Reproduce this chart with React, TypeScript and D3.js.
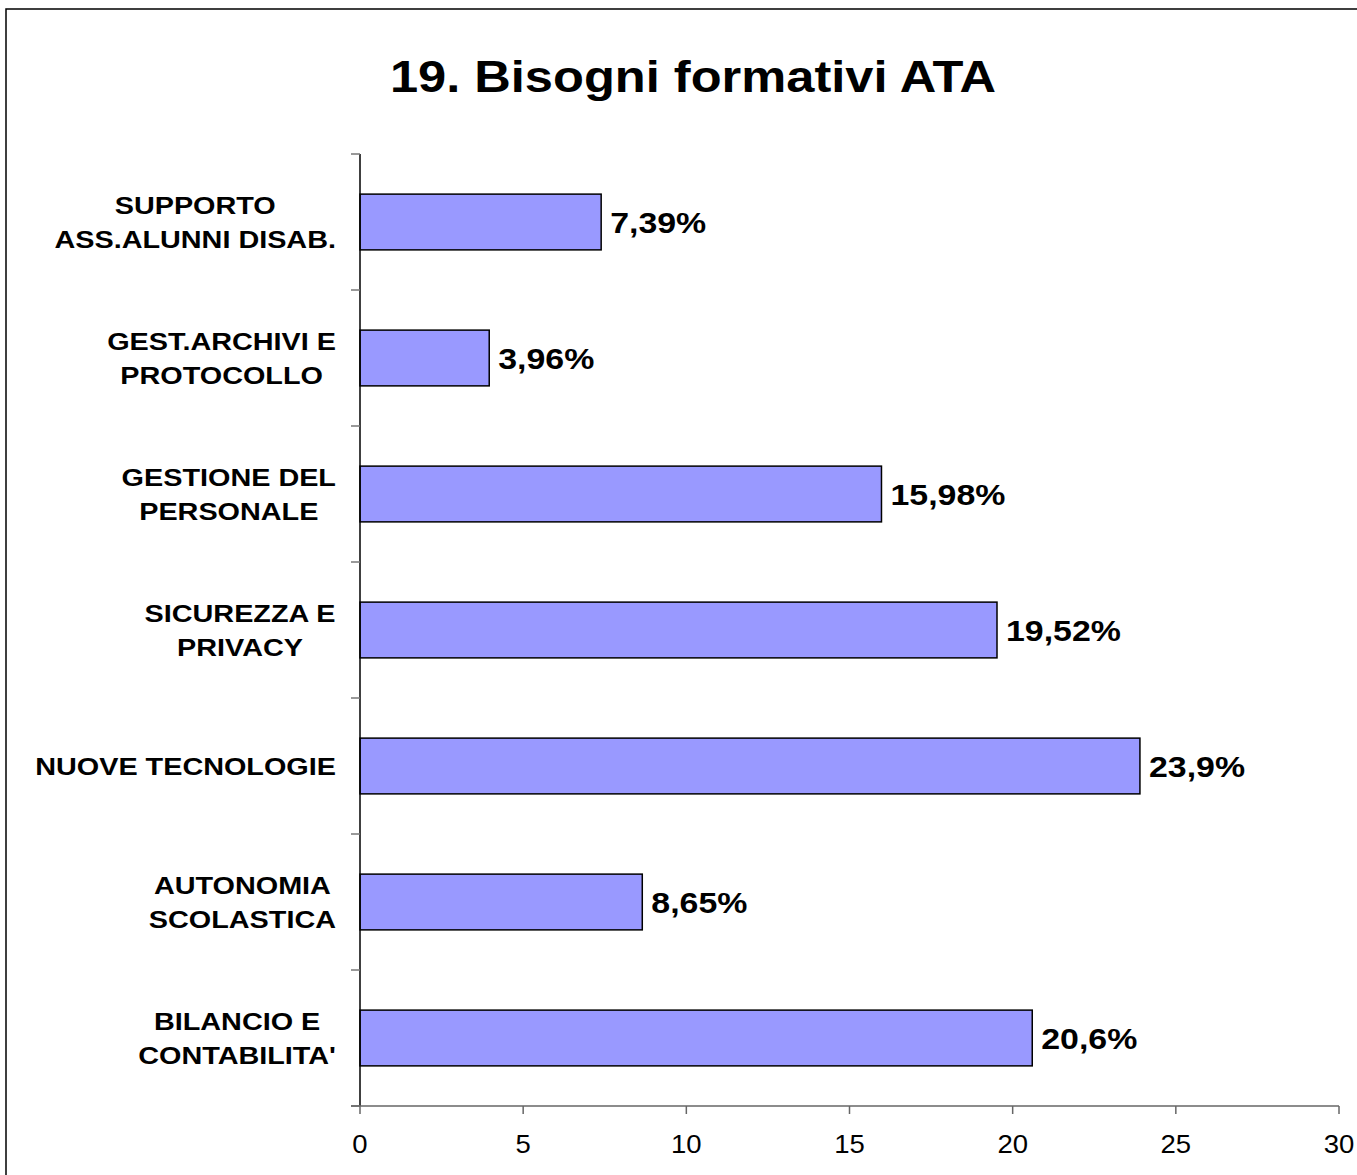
import React from "react";
import * as d3 from "d3";

const TITLE = "19. Bisogni formativi ATA";
const categories: string[][] = [
  ["SUPPORTO", "ASS.ALUNNI DISAB."],
  ["GEST.ARCHIVI E", "PROTOCOLLO"],
  ["GESTIONE DEL", "PERSONALE"],
  ["SICUREZZA E", "PRIVACY"],
  ["NUOVE TECNOLOGIE"],
  ["AUTONOMIA", "SCOLASTICA"],
  ["BILANCIO E", "CONTABILITA'"],
];
const values: number[] = [7.39, 3.96, 15.98, 19.52, 23.9, 8.65, 20.6];
const valueLabels: string[] = ["7,39%", "3,96%", "15,98%", "19,52%", "23,9%", "8,65%", "20,6%"];
const xTicks: number[] = [0, 5, 10, 15, 20, 25, 30];

const FONT = "'Liberation Sans', Arial, Helvetica, sans-serif";
const W = 1357;
const H = 1175;
const M = { left: 360, right: 1339, top: 154, bottom: 1106 };

const CAT_SIZE = 24;
const CAT_SX = 1.2;
const VAL_SIZE = 30;
const VAL_SX = 1.13;
const TICK_SIZE = 25;
const TICK_SX = 1.1;

let ctx: CanvasRenderingContext2D | null = null;
function measure(text: string, font: string): number {
  if (!ctx) ctx = document.createElement("canvas").getContext("2d");
  if (!ctx) return text.length * 14;
  ctx.font = font;
  return ctx.measureText(text).width;
}

export default function App() {
  const x = d3.scaleLinear().domain([0, 30]).range([M.left, M.right]);
  const y = d3
    .scaleBand<number>()
    .domain(d3.range(categories.length))
    .range([M.top, M.bottom])
    .paddingInner(0.59)
    .paddingOuter(0.295);
  const step = (M.bottom - M.top) / categories.length;
  const bounds = d3.range(categories.length + 1).map((i) => M.top + i * step);

  const labelRight = 336;
  const lineH = 34;

  return (
    <svg
      width={W}
      height={H}
      style={{ position: "absolute", left: 0, top: 0, background: "#fff" }}
      fontFamily={FONT}
    >
      <rect x={0} y={0} width={W} height={H} fill="#fff" />
      <rect x={6} y={9} width={W + 20} height={H + 20} fill="none" stroke="#000" strokeWidth={1.5} />
      <text
        transform={`translate(${693},${92}) scale(1.15,1)`}
        textAnchor="middle"
        fontSize={44}
        fontWeight="bold"
        fill="#000"
      >
        {TITLE}
      </text>

      {/* bars */}
      {values.map((v, i) => (
        <rect
          key={"b" + i}
          x={x(0)}
          y={y(i)!}
          width={x(v) - x(0)}
          height={y.bandwidth()}
          fill="#9999FF"
          stroke="#000"
          strokeWidth={1.5}
        />
      ))}

      {/* value labels */}
      {values.map((v, i) => (
        <text
          key={"v" + i}
          transform={`translate(${x(v) + 9},${y(i)! + y.bandwidth() / 2 + 11}) scale(${VAL_SX},1)`}
          fontSize={VAL_SIZE}
          fontWeight="bold"
          fill="#000"
        >
          {valueLabels[i]}
        </text>
      ))}

      {/* y axis */}
      <line x1={M.left} x2={M.left} y1={M.top} y2={M.bottom} stroke="#000" strokeWidth={1.5} />
      {bounds.map((b, i) => (
        <line key={"yt" + i} x1={M.left - 9} x2={M.left} y1={b} y2={b} stroke="#777" strokeWidth={1.5} />
      ))}

      {/* x axis */}
      <line x1={M.left - 9} x2={M.right} y1={M.bottom} y2={M.bottom} stroke="#666" strokeWidth={1.5} />
      {xTicks.map((t) => (
        <g key={"xt" + t}>
          <line x1={x(t)} x2={x(t)} y1={M.bottom} y2={M.bottom + 8} stroke="#666" strokeWidth={1.5} />
          <text
            transform={`translate(${x(t)},${1153}) scale(${TICK_SX},1)`}
            textAnchor="middle"
            fontSize={TICK_SIZE}
            fill="#000"
          >
            {t}
          </text>
        </g>
      ))}

      {/* category labels */}
      {categories.map((lines, i) => {
        const font = `bold ${CAT_SIZE}px ${FONT}`;
        const maxW = Math.max(...lines.map((l) => measure(l, font))) * CAT_SX;
        const cx = labelRight - maxW / 2;
        const center = y(i)! + y.bandwidth() / 2;
        const capH = CAT_SIZE * 0.716;
        const firstBase = center + capH / 2 - ((lines.length - 1) * lineH) / 2;
        return (
          <g key={"c" + i}>
            {lines.map((l, j) => (
              <text
                key={j}
                transform={`translate(${cx},${firstBase + j * lineH}) scale(${CAT_SX},1)`}
                textAnchor="middle"
                fontSize={CAT_SIZE}
                fontWeight="bold"
                fill="#000"
              >
                {l}
              </text>
            ))}
          </g>
        );
      })}
    </svg>
  );
}
